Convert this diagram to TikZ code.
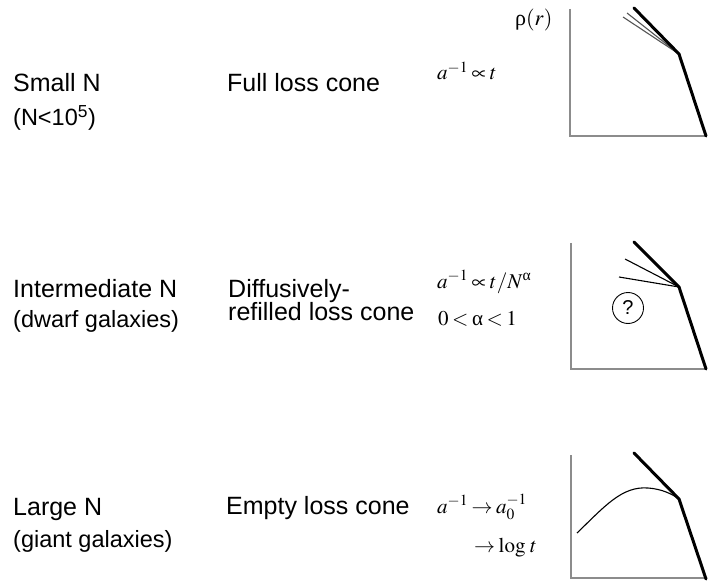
\documentclass[tikz,border=0pt]{standalone}
\usepackage{mathptmx}
\usepackage{amsmath}
\usepackage[no-math]{fontspec}
\setmainfont{Liberation Sans}
\newfontfamily\greekfont{Liberation Serif}
\definecolor{axisgray}{HTML}{8C8C8C}
\definecolor{fangray}{HTML}{555555}
\tikzset{
  regime/.style={anchor=base west, inner sep=0pt, font=\fontsize{25}{30}\selectfont},
  regimesub/.style={regime, font=\fontsize{23.5}{28}\selectfont},
  formula/.style={anchor=base west, inner sep=0pt, font=\fontsize{21}{25}\selectfont},
  axisline/.style={draw=axisgray, line width=1.4pt},
  profile/.style={draw=black, line width=3pt, line join=round, line cap=round},
  slope/.style={draw=black, line width=1.1pt},
  query/.style={circle, draw=black, line width=0.9pt, minimum size=31pt, inner sep=0pt, font=\fontsize{20}{24}\selectfont}
}
\newcommand{\gk}[1]{\text{\greekfont #1}}

\begin{document}
\begin{tikzpicture}[x=1pt, y=-1pt]
\useasboundingbox (0,0) rectangle (709,585);
\thickmuskip=3mu plus 2mu
\medmuskip=2mu plus 1mu

% regime labels
\node[regime] (smallN) at (13,92) {Small N};
\node[regimesub] (smallNsub) at (13,126) {(N<10\textsuperscript{5})};
\node[regime] (fullcone) at (227,92) {Full loss cone};
\node[formula] (fullrate) at (437,80) {$a^{-1}\propto t$};

\node[regime] (midN) at (13,298) {Intermediate N};
\node[regimesub] (midNsub) at (13,327) {(dwarf galaxies)};
\node[regime] (diffcone) at (228,297) {Diffusively-};
\node[regime] (diffcone2) at (228,320) {refilled loss cone};
\node[formula] (diffrate) at (437,288) {$a^{-1}\propto t/N^{\gk{α}}$};
\node[formula] (diffrange) at (438,325) {$0<\gk{α}<1$};

\node[regime] (largeN) at (13,515) {Large N};
\node[regimesub] (largeNsub) at (13,547) {(giant galaxies)};
\node[regime] (emptycone) at (226,514) {Empty loss cone};
\node[formula] (emptyrate) at (437,513) {$a^{-1}\to a_0^{-1}$};
\node[formula] (emptylog) at (474,552) {$\to\log\,t$};

\node[formula, font=\fontsize{22}{26}\selectfont] (rholabel) at (515,26) {$\gk{ρ}(r)$};

% panel 1: full loss cone
\coordinate (knee1) at (679,54);
\draw[axisline] (570,9) -- (570,136) -- (706,136);
\draw[draw=fangray, line width=1.1pt] (623,17) -- (knee1);
\draw[draw=fangray, line width=1.1pt] (627,13) -- (knee1);
\draw[profile] (634,8) -- (knee1) -- (706,136);

% panel 2: diffusive regime
\coordinate (knee2) at (679,287);
\draw[axisline] (571,243) -- (571,369) -- (706,369);
\draw[slope] (625,259) -- (knee2);
\draw[slope] (619,277) -- (knee2);
\draw[profile] (634,242) -- (knee2) -- (706,369);
\node[query] (unknown) at (628,308) {?};

% panel 3: empty loss cone
\coordinate (knee3) at (679,499);
\draw[axisline] (571,455) -- (571,578) -- (706,578);
\draw[slope] (577,533) .. controls (605,506) and (622,486) .. (648,488)
  .. controls (662,489) and (672,494) .. (knee3);
\draw[profile] (634,453) -- (knee3) -- (706,579);

\end{tikzpicture}
\end{document}
